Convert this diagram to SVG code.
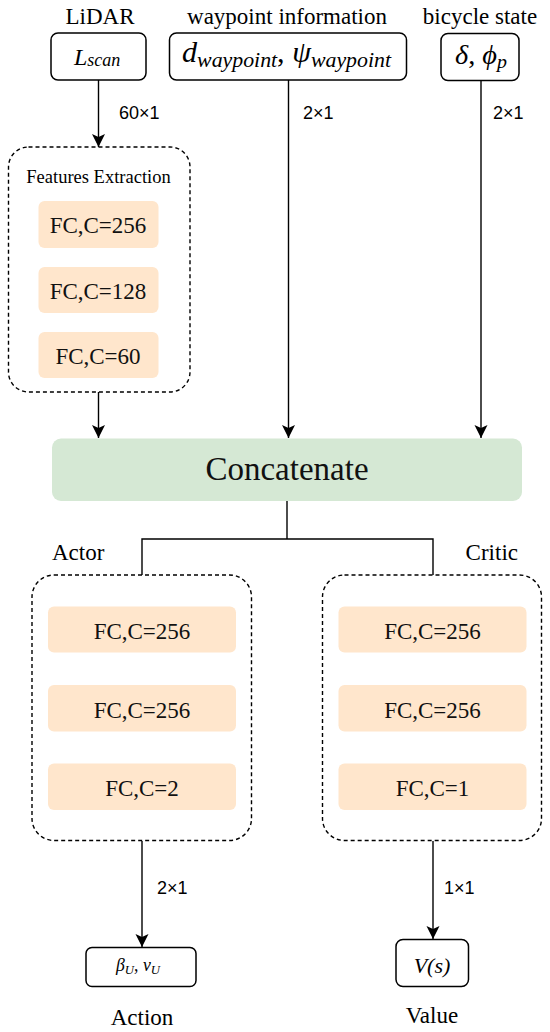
<svg xmlns="http://www.w3.org/2000/svg" width="550" height="1032" viewBox="0 0 550 1032">
<defs>
<style>
.lbl{font-family:"Liberation Serif","Times New Roman",serif;font-size:23px;fill:#000;}
.small{font-size:18.5px;}
.dim{font-family:"Liberation Sans",Arial,sans-serif;font-size:18px;fill:#000;}
.math{font-family:"Liberation Serif","Times New Roman",serif;font-style:italic;fill:#000;}
.box{fill:#fff;stroke:#000;stroke-width:1.5;}
.dash{fill:none;stroke:#000;stroke-width:1.4;stroke-dasharray:4 3;}
.fc{fill:#ffe6cc;stroke:none;}
.fct{font-family:"Liberation Serif","Times New Roman",serif;font-size:23px;fill:#111;text-anchor:middle;}
.conn{fill:none;stroke:#000;stroke-width:1.4;}
</style>
<marker id="arr" viewBox="0 0 14 14" refX="13" refY="7" markerWidth="14" markerHeight="14" markerUnits="userSpaceOnUse" orient="auto">
<path d="M0,0.5 L13,7 L0,13.5 L3,7 Z" fill="#000"/>
</marker>
</defs>
<rect width="550" height="1032" fill="#fff"/>

<g id="connectors">
<line class="conn" x1="98.5" y1="80" x2="98.5" y2="147" marker-end="url(#arr)"/>
<line class="conn" x1="98.5" y1="392" x2="98.5" y2="438" marker-end="url(#arr)"/>
<line class="conn" x1="288.5" y1="80" x2="288.5" y2="438" marker-end="url(#arr)"/>
<line class="conn" x1="481" y1="80" x2="481" y2="438" marker-end="url(#arr)"/>
<polyline class="conn" points="287,501 287,539"/>
<polyline class="conn" points="142,575 142,539 433,539 433,575"/>
<line class="conn" x1="142" y1="841" x2="142" y2="947" marker-end="url(#arr)"/>
<line class="conn" x1="433" y1="841" x2="433" y2="939" marker-end="url(#arr)"/>
<text class="dim" x="119" y="119">60×1</text>
<text class="dim" x="303" y="119">2×1</text>
<text class="dim" x="493" y="119">2×1</text>
<text class="dim" x="157" y="894">2×1</text>
<text class="dim" x="444" y="894">1×1</text>
</g>

<g id="lidar">
<text class="lbl" x="100" y="24" text-anchor="middle">LiDAR</text>
<rect class="box" x="51" y="33" width="95" height="47" rx="7"/>
<text class="math" x="74" y="65" font-size="24">L<tspan font-size="18" dy="1">scan</tspan></text>
</g>

<g id="waypoint">
<text class="lbl" x="287" y="24" text-anchor="middle">waypoint information</text>
<rect class="box" x="169.5" y="33" width="237" height="47" rx="7"/>
<text class="math" x="182" y="62" font-size="29" textLength="209" lengthAdjust="spacingAndGlyphs">d<tspan font-size="21" dy="5">waypoint</tspan><tspan font-size="29" dy="-5" font-style="normal">, </tspan><tspan font-size="29">ψ</tspan><tspan font-size="21" dy="5">waypoint</tspan></text>
</g>

<g id="bicycle">
<text class="lbl" x="480" y="24" text-anchor="middle">bicycle state</text>
<rect class="box" x="441" y="33.5" width="78" height="47" rx="7"/>
<text class="math" x="455" y="64" font-size="27" textLength="52" lengthAdjust="spacingAndGlyphs">δ<tspan font-style="normal">, </tspan>ϕ<tspan font-size="19" dy="4">p</tspan></text>
</g>

<g id="features">
<rect class="dash" x="8.5" y="147" width="181.5" height="245" rx="20"/>
<text class="lbl small" x="98.5" y="183" text-anchor="middle">Features Extraction</text>
<rect class="fc" x="38.5" y="201" width="120" height="47" rx="6"/>
<text class="fct" x="98" y="233">FC,C=256</text>
<rect class="fc" x="38.5" y="267" width="120" height="46" rx="6"/>
<text class="fct" x="98" y="298.5">FC,C=128</text>
<rect class="fc" x="38.5" y="332" width="120" height="46" rx="6"/>
<text class="fct" x="98" y="363.5">FC,C=60</text>
</g>

<g id="concatenate">
<rect x="52" y="438.5" width="470" height="62.5" rx="9" fill="#d5e8d4"/>
<text x="287" y="480" text-anchor="middle" font-family="'Liberation Serif','Times New Roman',serif" font-size="33" fill="#111">Concatenate</text>
</g>

<g id="actor">
<text class="lbl" x="52" y="560">Actor</text>
<rect class="dash" x="32" y="575" width="219.5" height="265.5" rx="22"/>
<rect class="fc" x="48" y="606.5" width="188" height="46" rx="6"/>
<text class="fct" x="142" y="639">FC,C=256</text>
<rect class="fc" x="48" y="685" width="188" height="46.5" rx="6"/>
<text class="fct" x="142" y="717.5">FC,C=256</text>
<rect class="fc" x="48" y="763.5" width="188" height="46.5" rx="6"/>
<text class="fct" x="142" y="796">FC,C=2</text>
</g>

<g id="critic">
<text class="lbl" x="518" y="560" text-anchor="end">Critic</text>
<rect class="dash" x="322.5" y="575" width="219" height="265.5" rx="22"/>
<rect class="fc" x="338.5" y="606.5" width="188" height="46" rx="6"/>
<text class="fct" x="432.5" y="639">FC,C=256</text>
<rect class="fc" x="338.5" y="685" width="188" height="46.5" rx="6"/>
<text class="fct" x="432.5" y="717.5">FC,C=256</text>
<rect class="fc" x="338.5" y="763.5" width="188" height="46.5" rx="6"/>
<text class="fct" x="432.5" y="796">FC,C=1</text>
</g>

<g id="action">
<rect class="box" x="86" y="947.5" width="110" height="39" rx="6"/>
<text class="math" x="116" y="971" font-size="18" textLength="44" lengthAdjust="spacingAndGlyphs">β<tspan font-size="13" dy="3">U</tspan><tspan font-size="18" dy="-3" font-style="normal">, </tspan>ν<tspan font-size="13" dy="3">U</tspan></text>
<text class="lbl" x="142" y="1025" text-anchor="middle">Action</text>
</g>

<g id="value">
<rect class="box" x="396" y="939.5" width="72.5" height="47" rx="7"/>
<text class="math" x="432" y="973" font-size="22" text-anchor="middle">V(s)</text>
<text class="lbl" x="432" y="1023" text-anchor="middle">Value</text>
</g>
</svg>
